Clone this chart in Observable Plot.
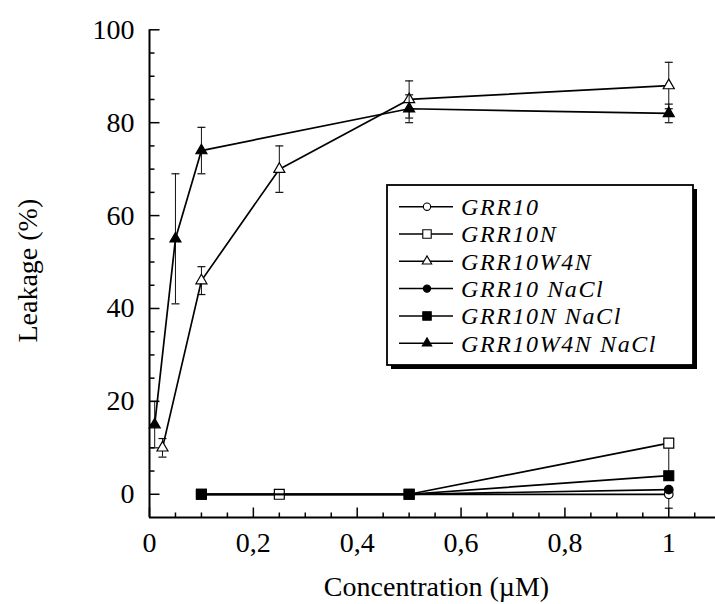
<!DOCTYPE html>
<html><head><meta charset="utf-8">
<script src="https://cdn.jsdelivr.net/npm/d3@7"></script>
<script src="https://cdn.jsdelivr.net/npm/@observablehq/plot@0.6"></script>
<style>body{margin:0;background:#fff}</style>
</head><body><div id="chart"></div>
<script>
// ---- data ----
const seriesNames = ["GRR10", "GRR10N", "GRR10W4N", "GRR10 NaCl", "GRR10N NaCl", "GRR10W4N NaCl"];
const seriesSymbols = ["circle", "square", "triangle", "circle", "square", "triangle"];
const seriesFilled = [false, false, false, true, true, true];

const concGRR10 = [0.1, 0.25, 0.5, 1];
const leakGRR10 = [0, 0, 0, 0];
const lowGRR10 = [null, null, null, -3];
const highGRR10 = [null, null, null, 0];

const concGRR10N = [0.1, 0.25, 0.5, 1];
const leakGRR10N = [0, 0, 0, 11];
const lowGRR10N = [null, null, null, 4];
const highGRR10N = [null, null, null, 11];

const concGRR10W4N = [0.025, 0.1, 0.25, 0.5, 1];
const leakGRR10W4N = [10, 46, 70, 85, 88];
const lowGRR10W4N = [8, 43, 65, 81, 83];
const highGRR10W4N = [12, 49, 75, 89, 93];

const concGRR10NaCl = [0.1, 0.5, 1];
const leakGRR10NaCl = [0, 0, 1];
const lowGRR10NaCl = [null, null, null];
const highGRR10NaCl = [null, null, null];

const concGRR10NNaCl = [0.1, 0.5, 1];
const leakGRR10NNaCl = [0, 0, 4];
const lowGRR10NNaCl = [null, null, null];
const highGRR10NNaCl = [null, null, null];

const concGRR10W4NNaCl = [0.01, 0.05, 0.1, 0.5, 1];
const leakGRR10W4NNaCl = [15, 55, 74, 83, 82];
const lowGRR10W4NNaCl = [10, 41, 69, 80, 80];
const highGRR10W4NNaCl = [20, 69, 79, 86, 84];

const xMajorTicks = [0, 0.2, 0.4, 0.6, 0.8, 1];
const xTickLabels = ["0", "0,2", "0,4", "0,6", "0,8", "1"];
const xMinorTicks = [0.05, 0.1, 0.15, 0.25, 0.3, 0.35, 0.45, 0.5, 0.55, 0.65, 0.7, 0.75, 0.85, 0.9, 0.95, 1.05];
const yMajorTicks = [0, 20, 40, 60, 80, 100];
const yTickLabels = ["0", "20", "40", "60", "80", "100"];
const yMinorTicks = [5, 10, 15, 25, 30, 35, 45, 50, 55, 65, 70, 75, 85, 90, 95];

const xTitle = "Concentration (\u00b5M)";
const yTitle = "Leakage (%)";

// ---- build ----
const seriesX = [concGRR10, concGRR10N, concGRR10W4N, concGRR10NaCl, concGRR10NNaCl, concGRR10W4NNaCl];
const seriesY = [leakGRR10, leakGRR10N, leakGRR10W4N, leakGRR10NaCl, leakGRR10NNaCl, leakGRR10W4NNaCl];
const seriesLo = [lowGRR10, lowGRR10N, lowGRR10W4N, lowGRR10NaCl, lowGRR10NNaCl, lowGRR10W4NNaCl];
const seriesHi = [highGRR10, highGRR10N, highGRR10W4N, highGRR10NaCl, highGRR10NNaCl, highGRR10W4NNaCl];

const markerR = {circle: 4.3, square: 5.6, triangle: 4.1};
const FONT = "'Liberation Serif', 'Times New Roman', Times, serif";

const hline = w => ({draw(ctx) { ctx.moveTo(-w / 2, 0); ctx.lineTo(w / 2, 0); }});
const vUp = L => ({draw(ctx) { ctx.moveTo(0, 0); ctx.lineTo(0, -L); }});
const hRight = L => ({draw(ctx) { ctx.moveTo(0, 0); ctx.lineTo(L, 0); }});

const marks = [];
seriesNames.forEach((name, i) => {
  const rows = seriesX[i].map((x, j) => ({x, y: seriesY[i][j], lo: seriesLo[i][j], hi: seriesHi[i][j]}));
  const err = rows.filter(d => d.lo != null);
  marks.push(Plot.ruleX(err, {x: "x", y1: "lo", y2: "hi", stroke: "#111", strokeWidth: 1}));
  marks.push(Plot.dot(err, {x: "x", y: "lo", symbol: hline(8), stroke: "#111", strokeWidth: 1.2}));
  marks.push(Plot.dot(err, {x: "x", y: "hi", symbol: hline(8), stroke: "#111", strokeWidth: 1.2}));
  marks.push(Plot.line(rows, {x: "x", y: "y", stroke: "black", strokeWidth: 1.7}));
  marks.push(Plot.dot(rows, {
    x: "x", y: "y", symbol: seriesSymbols[i], r: markerR[seriesSymbols[i]],
    fill: seriesFilled[i] ? "black" : "white", stroke: "black", strokeWidth: 1.2
  }));
});

// axes
marks.push(Plot.ruleX([0], {stroke: "black", strokeWidth: 2}));
marks.push(Plot.ruleY([-5], {stroke: "black", strokeWidth: 2}));
marks.push(Plot.dot(xMajorTicks, {x: d => d, frameAnchor: "bottom", symbol: vUp(10), stroke: "black", strokeWidth: 1.5}));
marks.push(Plot.dot(xMinorTicks, {x: d => d, frameAnchor: "bottom", symbol: vUp(5), stroke: "black", strokeWidth: 1.5}));
marks.push(Plot.dot(yMajorTicks, {y: d => d, frameAnchor: "left", symbol: hRight(10), stroke: "black", strokeWidth: 1.5}));
marks.push(Plot.dot(yMinorTicks, {y: d => d, frameAnchor: "left", symbol: hRight(5), stroke: "black", strokeWidth: 1.5}));
marks.push(Plot.text(xMajorTicks, {x: d => d, text: (d, i) => xTickLabels[i], frameAnchor: "bottom", lineAnchor: "middle", textAnchor: "middle", dy: 26, fontSize: 28, fill: "black"}));
marks.push(Plot.text(yMajorTicks, {y: d => d, text: (d, i) => yTickLabels[i], frameAnchor: "left", lineAnchor: "middle", dx: -15, textAnchor: "end", fontSize: 28, fill: "black"}));
marks.push(Plot.text([xTitle], {text: d => d, frameAnchor: "bottom", lineAnchor: "middle", textAnchor: "middle", dx: 4, dy: 70, fontSize: 28, fill: "black"}));
marks.push(Plot.text([yTitle], {text: d => d, frameAnchor: "left", lineAnchor: "middle", textAnchor: "middle", dx: -121, dy: -3, rotate: -90, fontSize: 28, fill: "black"}));

const plot = Plot.plot({
  width: 715, height: 604,
  marginLeft: 149, marginRight: 0, marginTop: 29.3, marginBottom: 87,
  x: {domain: [0, 1.09], axis: null},
  y: {domain: [-5, 100], axis: null},
  style: {fontFamily: FONT, background: "white", color: "black", overflow: "visible"},
  marks
});
document.getElementById("chart").appendChild(plot);

// legend
const svg = d3.select(plot);
const lg = svg.append("g").attr("text-anchor", "start");
const bx = 387, by = 185, bw = 306, bh = 180;
lg.append("rect").attr("x", bx + 4).attr("y", by + 4).attr("width", bw).attr("height", bh).attr("fill", "black");
lg.append("rect").attr("x", bx).attr("y", by).attr("width", bw).attr("height", bh).attr("fill", "white").attr("stroke", "black").attr("stroke-width", 1.8);
const symMap = {circle: d3.symbolCircle, square: d3.symbolSquare, triangle: d3.symbolTriangle};
seriesNames.forEach((name, i) => {
  const cy = 206.7 + 27.3 * i;
  const g = lg.append("g");
  g.append("line").attr("x1", 399).attr("x2", 453).attr("y1", cy).attr("y2", cy).attr("stroke", "black").attr("stroke-width", 1.5);
  const r = markerR[seriesSymbols[i]] * 0.85;
  g.append("path").attr("d", d3.symbol(symMap[seriesSymbols[i]], Math.PI * r * r)())
    .attr("transform", `translate(427,${cy})`)
    .attr("fill", seriesFilled[i] ? "black" : "white").attr("stroke", "black").attr("stroke-width", 1.1);
  g.append("text").attr("x", 461).attr("y", cy).attr("dy", "0.35em").attr("text-anchor", "start")
    .attr("font-family", FONT).attr("font-style", "italic").attr("font-size", 24)
    .attr("letter-spacing", 1.6).attr("fill", "black").text(name);
});
</script>
</body></html>
